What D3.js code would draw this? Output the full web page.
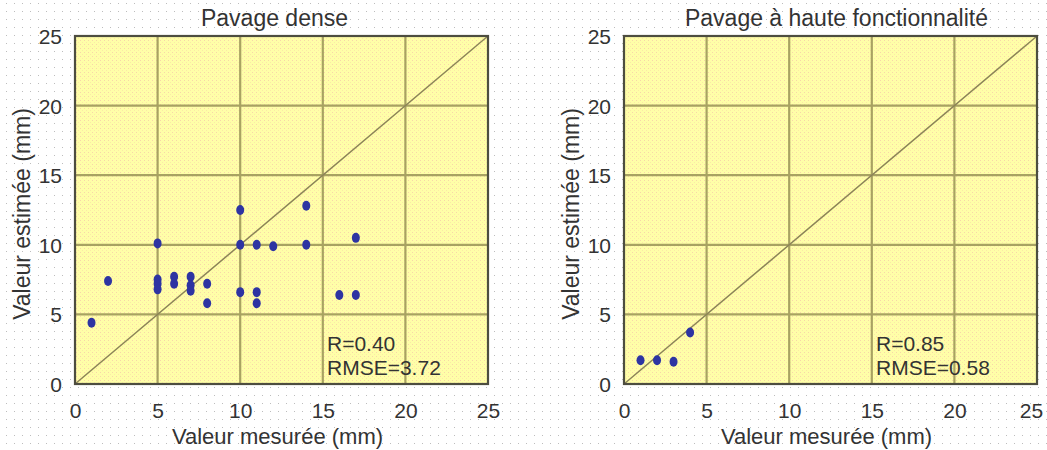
<!DOCTYPE html>
<html><head><meta charset="utf-8">
<script src="https://cdn.jsdelivr.net/npm/d3@7"></script>
<style>
html,body{margin:0;padding:0;background:#fff;}
svg{display:block;font-family:"Liberation Sans",Arial,Helvetica,sans-serif;}
</style></head>
<body>
<svg id="chart" width="1047" height="450"></svg>
<script>
// ---- data ----
const titles = ["Pavage dense", "Pavage à haute fonctionnalité"];
const xAxisLabel = "Valeur mesurée (mm)";
const yAxisLabel = "Valeur estimée (mm)";
const tickValues = [0, 5, 10, 15, 20, 25];

const denseX = [1, 2, 5, 5, 5, 5, 6, 6, 7, 7, 7, 8, 8, 10, 10, 10, 11, 11, 11, 12, 14, 14, 16, 17, 17];
const denseY = [4.4, 7.4, 10.1, 7.5, 7.2, 6.8, 7.7, 7.2, 7.7, 7.1, 6.7, 7.2, 5.8, 12.5, 10.0, 6.6, 10.0, 6.6, 5.8, 9.9, 12.8, 10.0, 6.4, 10.5, 6.4];

const hautX = [1, 2, 3, 4];
const hautY = [1.7, 1.7, 1.6, 3.7];

const statsDense = ["R=0.40", "RMSE=3.72"];
const statsHaut = ["R=0.85", "RMSE=0.58"];

// ---- drawing ----
const svg = d3.select("#chart");
const defs = svg.append("defs");

const bgPat = defs.append("pattern").attr("id", "bgdots").attr("patternUnits", "userSpaceOnUse")
  .attr("x", 6).attr("y", 3).attr("width", 8).attr("height", 8);
bgPat.append("rect").attr("width", 8).attr("height", 8).attr("fill", "#ffffff");
bgPat.append("rect").attr("width", 1).attr("height", 1).attr("fill", "#bdbdbd");

const plPat = defs.append("pattern").attr("id", "plotdots").attr("patternUnits", "userSpaceOnUse")
  .attr("width", 4).attr("height", 4).attr("shape-rendering", "crispEdges");
plPat.append("rect").attr("width", 4).attr("height", 4).attr("fill", "#fffea8");
plPat.append("rect").attr("width", 1).attr("height", 1).attr("fill", "#f8d6a8");
plPat.append("rect").attr("x", 2).attr("y", 2).attr("width", 1).attr("height", 1).attr("fill", "#fbeaa6");

svg.append("rect").attr("width", 1047).attr("height", 450).attr("fill", "url(#bgdots)");

const panels = [
  {left: 75, title: titles[0], xs: denseX, ys: denseY, stats: statsDense, titleDx: -7, ylabX: 22},
  {left: 624, title: titles[1], xs: hautX, ys: hautY, stats: statsHaut, titleDx: 6, ylabX: 571}
];
const plotTop = 36, plotBottom = 384, plotWidth = 413;
const txt = "#333";

panels.forEach((p, pi) => {
  const x = d3.scaleLinear().domain([0, 25]).range([p.left, p.left + plotWidth]);
  const y = d3.scaleLinear().domain([0, 25]).range([plotBottom, plotTop]);
  const g = svg.append("g");

  g.append("rect").attr("x", x(0)).attr("y", y(25)).attr("width", x(25) - x(0)).attr("height", y(0) - y(25))
    .attr("fill", "url(#plotdots)");

  // grid
  g.selectAll(".vg").data(tickValues.slice(1, -1)).join("line")
    .attr("x1", d => x(d)).attr("x2", d => x(d)).attr("y1", y(0)).attr("y2", y(25))
    .attr("stroke", "#a8a262").attr("stroke-width", 2.2);
  g.selectAll(".hg").data(tickValues.slice(1, -1)).join("line")
    .attr("y1", d => y(d)).attr("y2", d => y(d)).attr("x1", x(0)).attr("x2", x(25))
    .attr("stroke", "#a8a262").attr("stroke-width", 2.2);

  // 1:1 line
  g.append("line").attr("x1", x(0)).attr("y1", y(0)).attr("x2", x(25)).attr("y2", y(25))
    .attr("stroke", "#8c8458").attr("stroke-width", 1.5);

  // border
  g.append("rect").attr("x", x(0)).attr("y", y(25)).attr("width", x(25) - x(0)).attr("height", y(0) - y(25))
    .attr("fill", "none").attr("stroke", "#4d4d40").attr("stroke-width", 2.2);

  // axes (labels only)
  const xa = g.append("g").attr("transform", `translate(0,${plotBottom})`)
    .call(d3.axisBottom(x).tickValues(tickValues).tickSize(0).tickPadding(19));
  const ya = g.append("g").attr("transform", `translate(${p.left},0)`)
    .call(d3.axisLeft(y).tickValues(tickValues).tickSize(0).tickPadding(13));
  [xa, ya].forEach(a => {
    a.select(".domain").remove();
    a.selectAll("text").attr("font-size", 21).attr("fill", txt)
      .attr("font-family", "'Liberation Sans',Arial,sans-serif");
  });
  ya.selectAll("text").attr("dy", "0.36em");
  if (pi === 1) xa.selectAll("text").filter(d => d === 25).attr("dx", -6);

  // points
  const pts = p.xs.map((v, i) => [v, p.ys[i]]);
  g.selectAll(".pt").data(pts).join("ellipse")
    .attr("cx", d => x(d[0])).attr("cy", d => y(d[1]))
    .attr("rx", 4).attr("ry", 5).attr("fill", "#2e34a2");

  // stats text
  p.stats.forEach((s, i) => {
    g.append("text").attr("x", p.left + 252).attr("y", 351 + i * 24)
      .attr("font-size", 21).attr("fill", txt).text(s);
  });

  // title
  g.append("text").attr("x", (x(0) + x(25)) / 2 + p.titleDx).attr("y", 26)
    .attr("text-anchor", "middle").attr("font-size", 23).attr("fill", txt).text(p.title);

  // axis labels
  g.append("text").attr("x", (x(0) + x(25)) / 2 - 4).attr("y", 444)
    .attr("text-anchor", "middle").attr("font-size", 22).attr("fill", txt).text(xAxisLabel);
  g.append("text").attr("transform", `translate(${p.ylabX + 8},${(plotTop + plotBottom) / 2 + 4}) rotate(-90)`)
    .attr("text-anchor", "middle").attr("font-size", 23).attr("fill", txt).text(yAxisLabel);
});
</script>
</body></html>
